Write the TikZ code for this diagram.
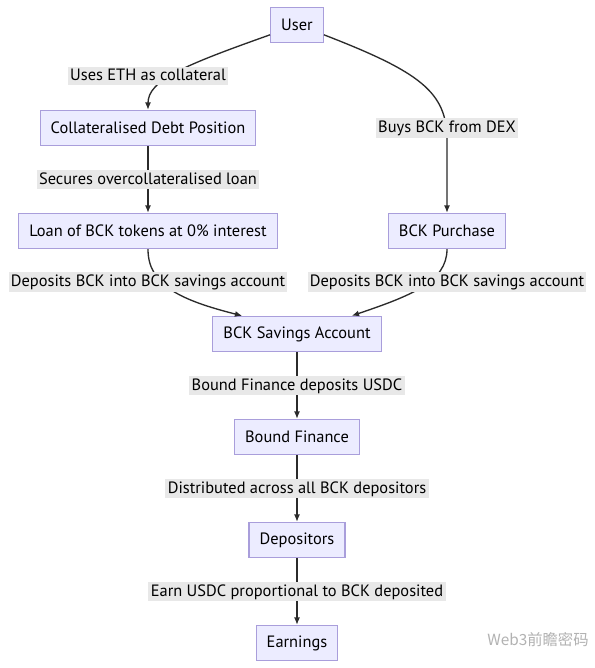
\documentclass[tikz,border=0pt]{standalone}
\usepackage{fontspec}
\setmainfont{PT Sans}
\newfontfamily\cjkfont{Noto Sans CJK SC}
\usetikzlibrary{positioning, arrows.meta, calc}

\definecolor{boxfill}{HTML}{ECECFF}
\definecolor{boxline}{HTML}{A99EDB}
\definecolor{edgeline}{HTML}{2B2B2B}
\definecolor{labelfill}{HTML}{E8E8E8}

\begin{document}
\begin{tikzpicture}[
  x=0.75pt, y=0.75pt,
  font=\fontsize{12.3}{14}\selectfont,
  flowbox/.style={
    draw=boxline, fill=boxfill, line width=0.8pt,
    minimum height=26.5pt, inner xsep=8pt, align=center
  },
  arrow/.style={-{Latex[length=5.5pt, width=4.5pt]}, line width=1pt, draw=edgeline},
  elabel/.style={fill=labelfill, inner sep=1.8pt, text depth=0.2em}
]

\useasboundingbox[fill=white] (0,0) rectangle (595,-668);

% boxes
\node[flowbox] (user) at (297,-25) {User};
\node[flowbox] (cdp) at (148,-128) {Collateralised Debt Position};
\node[flowbox] (loan) at (148,-231) {Loan of BCK tokens at 0\% interest};
\node[flowbox] (purchase) at (447,-231) {BCK Purchase};
\node[flowbox] (savings) at (297,-334) {BCK Savings Account};
\node[flowbox] (bound) at (297,-437) {Bound Finance};
\node[flowbox] (depositors) at (297,-540) {Depositors};
\node[flowbox] (earnings) at (297,-643) {Earnings};

% connectors
\draw[arrow] (user.200) .. controls (185,-65) and (148,-80) .. (cdp.north);
\draw[arrow] (user.-20) .. controls (420,-72) and (447,-92) .. (447,-140) -- (purchase.north);
\draw[arrow] (cdp) -- node[elabel] {Secures overcollateralised loan} (loan);
\draw[arrow] (loan.south) .. controls (148,-285) and (180,-300) .. ($(savings.north west)+(30,0)$);
\draw[arrow] (purchase.south) .. controls (447,-282) and (410,-296) .. ($(savings.north east)+(-30,0)$);
\draw[arrow] (savings) -- node[elabel] {Bound Finance deposits USDC} (bound);
\draw[arrow] (bound) -- node[elabel] {Distributed across all BCK depositors} (depositors);
\draw[arrow] (depositors) -- node[elabel] {Earn USDC proportional to BCK deposited} (earnings);

% labels on curved connectors
\node[elabel] (lbl-eth) at (148,-76) {Uses ETH as collateral};
\node[elabel] (lbl-dex) at (447,-128) {Buys BCK from DEX};
\node[elabel] (lbl-left) at (148,-282) {Deposits BCK into BCK savings account};
\node[elabel] (lbl-right) at (447,-282) {Deposits BCK into BCK savings account};

% watermark
\node[text=gray!60, font=\cjkfont\fontsize{11.5}{13}\selectfont] (mark) at (538,-640) {Web3前瞻密码};

\end{tikzpicture}
\end{document}
